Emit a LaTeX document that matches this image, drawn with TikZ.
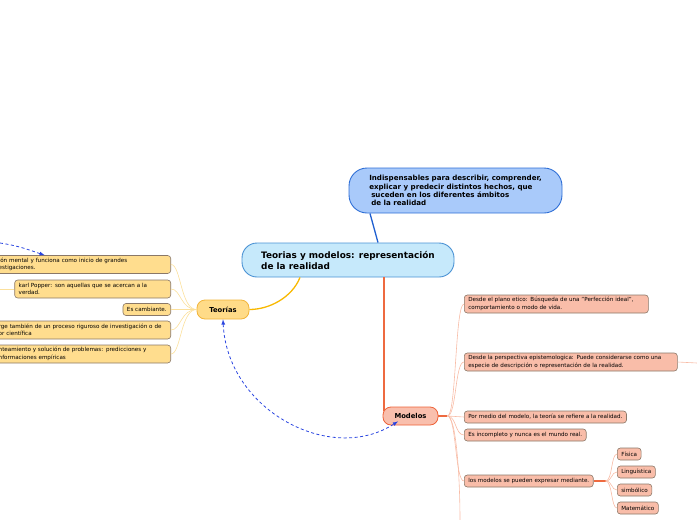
\documentclass[tikz,border=0pt]{standalone}
\usepackage{fontspec}
\setmainfont{DejaVu Sans}
\usetikzlibrary{arrows,positioning}
\definecolor{ideafill}{HTML}{A9CAFA}
\definecolor{ideaborder}{HTML}{2F6FD6}
\definecolor{rootfill}{HTML}{C6E9FB}
\definecolor{rootborder}{HTML}{4A92D4}
\definecolor{teorfill}{HTML}{FFDB88}
\definecolor{teorborder}{HTML}{F2B43A}
\definecolor{teorleaffill}{HTML}{FFDD8E}
\definecolor{modfill}{HTML}{F9BFAD}
\definecolor{modborder}{HTML}{EE6238}
\definecolor{modleaffill}{HTML}{F9BDA9}
\definecolor{leafborder}{HTML}{8A7868}
\definecolor{bluelinkcol}{HTML}{1F5FD0}
\definecolor{teorcol}{HTML}{F8B800}
\definecolor{modcol}{HTML}{EE6A40}
\definecolor{teortwigcol}{HTML}{FBE09C}
\definecolor{modtwigcol}{HTML}{F8BCA6}
\definecolor{dashcol}{HTML}{2A45E0}

\begin{document}
\begin{tikzpicture}[x=1pt, y=1pt, thin]
\tikzset{
  idea/.style={draw=ideaborder, fill=ideafill, rounded corners=18pt, line width=0.9pt, align=left, font=\bfseries\fontsize{7.1}{8.3}\selectfont},
  root/.style={draw=rootborder, fill=rootfill, rounded corners=15pt, line width=0.9pt, align=left, minimum width=212pt, minimum height=34pt, font=\bfseries\fontsize{8.9}{11}\selectfont},
  branch/.style={rounded corners=8pt, line width=0.8pt, minimum height=19pt, font=\bfseries\fontsize{6.8}{8}\selectfont},
  leaf/.style={draw=leafborder, rounded corners=3pt, line width=0.6pt, inner xsep=4pt, inner ysep=2pt, minimum height=12pt, align=left, font=\fontsize{5.6}{7.5}\selectfont, text=black},
  twoline/.style={minimum height=18pt, text width=#1},
  teorleaf/.style={leaf, fill=teorleaffill},
  modleaf/.style={leaf, fill=modleaffill},
  bluelink/.style={draw=bluelinkcol, line width=1.3pt},
  teorlink/.style={draw=teorcol, line width=1.3pt},
  modlink/.style={draw=modcol, line width=1.2pt},
  teortwig/.style={draw=teortwigcol, line width=0.6pt},
  modtwig/.style={draw=modtwigcol, line width=0.6pt},
  dashlink/.style={draw=dashcol, line width=0.8pt, dash pattern=on 3pt off 2.5pt}
}
\useasboundingbox (0,0) rectangle (697,-520);

% main ideas
\node[idea, minimum width=213pt, minimum height=45pt] (bubble) at (455.5,-190.5) {Indispensables para describir, comprender,\\explicar y predecir distintos hechos, que\\\hspace{2pt}suceden en los diferentes ámbitos\\\hspace{2pt}de la realidad};
\node[root] (central) at (348,-260) {Teorias y modelos: representación\\de la realidad};
\node[branch, draw=teorborder, fill=teorfill, minimum width=52pt] (teorias) at (223,-309.5) {Teorías};
\node[branch, draw=modborder, fill=modfill, minimum width=55pt, minimum height=18pt] (modelos) at (410.5,-416) {Modelos};

% teorias
\node[teorleaf, twoline=168pt, anchor=east] (t1) at (171,-264.5) {ión mental y funciona como inicio de grandes\\estigaciones.};
\node[teorleaf, twoline=148pt, anchor=east] (t2) at (171,-289) {karl Popper: son aquellas que se acercan a la\\verdad.};
\node[teorleaf, anchor=east] (t3) at (171,-309.5) {Es cambiante.};
\node[teorleaf, twoline=168pt, anchor=east] (t4) at (171,-330) {rge también de un proceso riguroso de investigación o de\\or científica};
\node[teorleaf, twoline=168pt, anchor=east] (t5) at (171,-354) {nteamiento y solución de problemas: predicciones y\\nformaciones empíricas};

% modelos
\node[modleaf, twoline=176pt, anchor=west] (m1) at (464,-304) {Desde el plano etico: Búsqueda de una "Perfección ideal",\\comportamiento o modo de vida.};
\node[modleaf, twoline=205pt, anchor=west] (m2) at (464,-362) {Desde la perspectiva epistemologica: Puede considerarse como una\\especie de descripción o representación de la realidad.};
\node[modleaf, anchor=west] (m3) at (464,-417) {Por medio del modelo, la teoría se refiere a la realidad.};
\node[modleaf, anchor=west] (m4) at (464,-435) {Es incompleto y nunca es el mundo real.};
\node[modleaf, anchor=west] (m5) at (464,-481) {los modelos se pueden expresar mediante.};
\node[modleaf, anchor=west] (s1) at (617,-454) {Física};
\node[modleaf, anchor=west] (s2) at (617,-472) {Linguística};
\node[modleaf, anchor=west] (s3) at (617,-490) {simbólico};
\node[modleaf, anchor=west] (s4) at (617,-508) {Matemático};

% free ends
\coordinate (tleft) at (0,-289);
\coordinate (mright) at (697,-363);
\coordinate (mbottom) at (460,-520);
\coordinate (dashstart) at (0,-243);
\coordinate[right=9pt of modelos] (mhub);
\coordinate[right=12pt of m5] (msplit);

% connectors
\draw[bluelink] ([xshift=-85.5pt]bubble.south) -- ([xshift=30pt]central.north);
\draw[teorlink] ([xshift=-48pt]central.south) .. controls +(-8,-20) and +(20,0) .. (teorias.east);
\draw[modlink] ([xshift=36pt]central.south) -- ([xshift=-26.5pt, yshift=-4pt]modelos.north);
\foreach \t in {t1,t2,t3,t4,t5}
  \draw[teortwig] (teorias.west) .. controls +(-16,0) and +(10,0) .. (\t.east);
\draw[teortwig] (t2.west) -- (tleft);
\draw[modlink] (modelos.east) -- (mhub);
\foreach \m in {m1,m2,m3,m4,m5}
  \draw[modtwig] (mhub) .. controls +(9,0) and +(-9,0) .. (\m.west);
\draw[modtwig] (mhub) .. controls +(9,0) and +(0,40) .. (mbottom);
\draw[modtwig] (m2.east) -- (mright);
\draw[modlink] (m5.east) -- (msplit);
\foreach \s in {s1,s2,s3,s4}
  \draw[modtwig] (msplit) .. controls +(7,0) and +(-6,0) .. (\s.west);

% dashed links
\draw[dashlink, -latex] (dashstart) .. controls +(20,-3) and +(-15,5) .. ([xshift=-38pt]t1.north);
\draw[dashlink, latex-latex] (teorias.south) .. controls +(4,-90) and +(-68,-44) .. ([xshift=-12.5pt, yshift=4pt]modelos.south);
\end{tikzpicture}
\end{document}
